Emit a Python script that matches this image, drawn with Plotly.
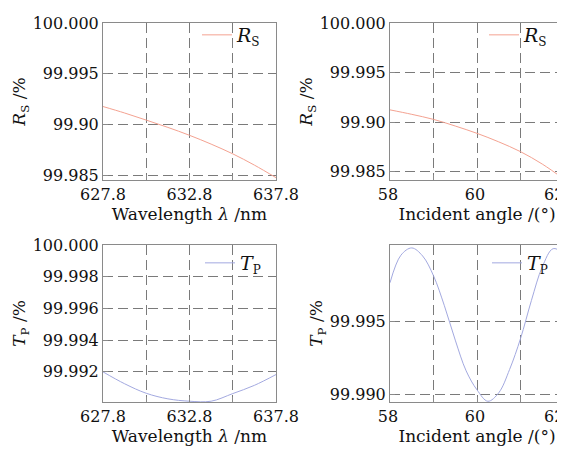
import plotly.graph_objects as go

# ---- data ----
wl = [627.8, 629.05, 630.3, 631.55, 632.8, 634.05, 635.3, 636.55, 637.8]
rs_wl = [99.99176, 99.99112, 99.99042, 99.98970, 99.98892, 99.98805, 99.98709, 99.98598, 99.98474]
tp_wl = [99.99200, 99.99125, 99.99065, 99.99030, 99.99015, 99.99015, 99.99063, 99.99115, 99.99183]

ang_rs = [58.0, 58.5, 59.0, 59.5, 60.0, 60.5, 61.0, 61.5, 62.0]
rs_ang = [99.99123, 99.99078, 99.99027, 99.98960, 99.98886, 99.98800, 99.98701, 99.98576, 99.98424]

ang_tp = [58.0, 58.25, 58.5, 58.75, 59.0, 59.25, 59.5, 59.75, 60.0, 60.25, 60.5, 60.75,
          61.0, 61.25, 61.5, 61.75, 62.0]
tp_ang = [99.99762, 99.99950, 100.00000, 99.99945, 99.99810, 99.99605, 99.99370, 99.99160,
          99.99030, 99.98952, 99.99010, 99.99170, 99.99380, 99.99640, 99.99870, 99.99995, 99.99962]

wl_ticks = [627.8, 630.3, 632.8, 635.3, 637.8]
wl_ticktext = ["627.8", "", "632.8", "", "637.8"]
ang_ticks = [58, 59, 60, 61, 62]
ang_ticktext = ["58", "", "60", "", "62"]
rs_yticks = [99.985, 99.990, 99.995, 100.000]
rs_yticktext = ["99.985", "99.90", "99.995", "100.000"]
tpwl_yticks = [99.992, 99.994, 99.996, 99.998, 100.000]
tpwl_yticktext = ["99.992", "99.994", "99.996", "99.998", "100.000"]
tpang_yticks = [99.990, 99.995]
tpang_yticktext = ["99.990", "99.995"]

RS_COLOR = "#f4a291"
TP_COLOR = "#a3a9e0"
FONT = "DejaVu Serif"
W, H = 565, 451

def dom_x(a, b):
    return [a / W, b / W]

def dom_y(top, bot):
    return [1 - bot / H, 1 - top / H]

fig = go.Figure()
rs_name = "<i>R</i><sub><span style='font-size:12px'>S</span></sub>"
tp_name = "<i>T</i><sub><span style='font-size:12px'>P</span></sub>"
fig.add_trace(go.Scatter(x=wl, y=rs_wl, mode="lines", line=dict(color=RS_COLOR, width=1, shape="spline"),
                         name=rs_name, xaxis="x", yaxis="y", legend="legend"))
fig.add_trace(go.Scatter(x=ang_rs, y=rs_ang, mode="lines", line=dict(color=RS_COLOR, width=1, shape="spline"),
                         name=rs_name, xaxis="x2", yaxis="y2", legend="legend2"))
fig.add_trace(go.Scatter(x=wl, y=tp_wl, mode="lines", line=dict(color=TP_COLOR, width=1, shape="spline"),
                         name=tp_name, xaxis="x3", yaxis="y3", legend="legend3"))
fig.add_trace(go.Scatter(x=ang_tp, y=tp_ang, mode="lines", line=dict(color=TP_COLOR, width=1, shape="spline"),
                         name=tp_name, xaxis="x4", yaxis="y4", legend="legend4"))

axis_common = dict(
    automargin=False, ticklabeloverflow="allow",
    showline=True, linecolor="#8a8a8a", linewidth=1, mirror=True,
    ticks="inside", ticklen=5, tickcolor="#8a8a8a",
    showgrid=True, gridcolor="#7a7a7a", gridwidth=1, griddash="10px,5px",
    zeroline=False, tickfont=dict(family=FONT, size=16, color="#111"),
    title_font=dict(family=FONT, size=17, color="#111"),
)

xt_wl = "Wavelength <i>λ</i> /nm"
xt_ang = "Incident angle /(°)"
yt_rs = "<i>R</i><sub>S</sub> /%"
yt_tp = "<i>T</i><sub>P</sub> /%"

# the last angle label sits at the very edge of the page; it is drawn as an annotation
ang_axis_text = ang_ticktext[:-1] + [""]

fig.update_layout(
    width=W, height=H, margin=dict(l=0, r=0, t=0, b=0, autoexpand=False),
    paper_bgcolor="white", plot_bgcolor="white", showlegend=True,
    font=dict(family=FONT, color="#111"),
    xaxis=dict(axis_common, domain=dom_x(95, 268), anchor="y", range=[627.8, 637.8],
               tickvals=wl_ticks, ticktext=wl_ticktext, title=dict(text=xt_wl, standoff=4)),
    yaxis=dict(axis_common, domain=dom_y(15, 172), anchor="x", range=[99.98451, 100.0],
               tickvals=rs_yticks, ticktext=rs_yticktext, title=dict(text=yt_rs, standoff=2)),
    xaxis2=dict(axis_common, domain=dom_x(382, 556), anchor="y2", range=[58, 62], ticklabelshift=-2,
                tickvals=ang_ticks, ticktext=ang_axis_text, title=dict(text=xt_ang, standoff=4)),
    yaxis2=dict(axis_common, domain=dom_y(15, 172), anchor="x2", range=[99.98415, 100.0],
                tickvals=rs_yticks, ticktext=rs_yticktext, title=dict(text=yt_rs, standoff=2)),
    xaxis3=dict(axis_common, domain=dom_x(95, 268), anchor="y3", range=[627.8, 637.8],
                tickvals=wl_ticks, ticktext=wl_ticktext, title=dict(text=xt_wl, standoff=4)),
    yaxis3=dict(axis_common, domain=dom_y(237, 394), anchor="x3", range=[99.9901, 100.0],
                tickvals=tpwl_yticks, ticktext=tpwl_yticktext, title=dict(text=yt_tp, standoff=2)),
    xaxis4=dict(axis_common, domain=dom_x(382, 556), anchor="y4", range=[58, 62], ticklabelshift=-2,
                tickvals=ang_ticks, ticktext=ang_axis_text, title=dict(text=xt_ang, standoff=4)),
    yaxis4=dict(axis_common, domain=dom_y(237, 394), anchor="x4", range=[99.98947, 100.0002],
                tickvals=tpang_yticks, ticktext=tpang_yticktext, title=dict(text=yt_tp, standoff=2)),
)

# edge tick labels "62" (real text), placed where the axis labels sit
for ax_x, ax_y in (("x2", "y2"), ("x4", "y4")):
    fig.add_annotation(
        text=ang_ticktext[-1], xref="paper", x=558 / W, xanchor="right",
        yref=f"{ax_y} domain", y=0, yanchor="top", yshift=-3,
        showarrow=False, font=dict(family=FONT, size=16, color="#111"),
    )

leg_common = dict(bgcolor="rgba(0,0,0,0)", borderwidth=0, xanchor="right", yanchor="middle",
                  font=dict(family=FONT, size=19, color="#111"), itemwidth=30)
fig.update_layout(
    legend=dict(leg_common, x=258 / W, y=1 - 27 / H),
    legend2=dict(leg_common, x=545 / W, y=1 - 27 / H),
    legend3=dict(leg_common, x=258 / W, y=1 - 255 / H),
    legend4=dict(leg_common, x=545 / W, y=1 - 255 / H),
)

fig.write_html("out.html")
